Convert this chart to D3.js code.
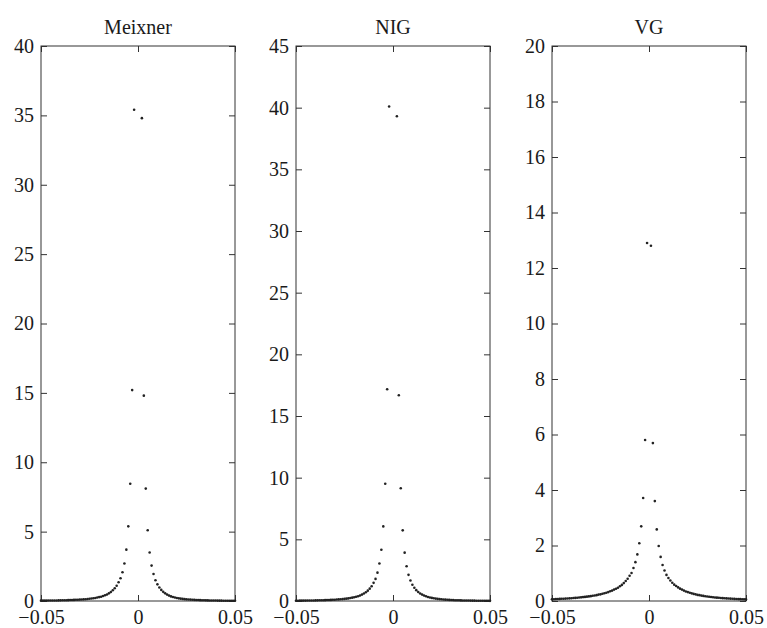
<!DOCTYPE html>
<html>
<head>
<meta charset="utf-8">
<script src="https://cdn.jsdelivr.net/npm/d3@7"></script>
<style>
  body { margin: 0; background: #fff; }
  svg { display: block; }
  svg text { font-family: "Liberation Serif", "Times New Roman", serif; font-size: 20px; fill: #1a1a1a; }
</style>
</head>
<body>
<svg id="chart" width="767" height="628"></svg>
<script>
const width = 767;
const height = 628;

// distance from 0 of each grid point (same on both sides)
const offsets = [0.001, 0.002, 0.003, 0.004, 0.005, 0.006, 0.007, 0.008, 0.009, 0.010,
  0.011, 0.012, 0.013, 0.014, 0.015, 0.016, 0.017, 0.018, 0.019, 0.020,
  0.021, 0.022, 0.023, 0.024, 0.025, 0.026, 0.027, 0.028, 0.029, 0.030,
  0.031, 0.032, 0.033, 0.034, 0.035, 0.036, 0.037, 0.038, 0.039, 0.040,
  0.041, 0.042, 0.043, 0.044, 0.045, 0.046, 0.047, 0.048, 0.049, 0.050];

// null = point off the top of the panel
const meixnerLeft = [null, 35.4, 15.2, 8.45, 5.38, 3.7, 2.7, 2.07, 1.64, 1.35, 1.10, 0.92, 0.77, 0.65, 0.55, 0.47, 0.41, 0.36, 0.31, 0.28, 0.25, 0.22, 0.20, 0.18, 0.16, 0.145, 0.13, 0.12, 0.11, 0.10, 0.092, 0.085, 0.078, 0.072, 0.067, 0.062, 0.058, 0.054, 0.050, 0.047, 0.044, 0.041, 0.038, 0.036, 0.034, 0.032, 0.030, 0.028, 0.026, 0.025];
const meixnerRight = [null, 34.8, 14.8, 8.1, 5.1, 3.5, 2.55, 1.95, 1.5, 1.2, 0.97, 0.80, 0.66, 0.55, 0.46, 0.39, 0.33, 0.29, 0.25, 0.22, 0.19, 0.17, 0.15, 0.135, 0.12, 0.11, 0.10, 0.09, 0.082, 0.075, 0.068, 0.062, 0.057, 0.052, 0.048, 0.044, 0.040, 0.037, 0.034, 0.031, 0.029, 0.027, 0.025, 0.023, 0.021, 0.019, 0.018, 0.017, 0.016, 0.015];

const nigLeft = [null, 40.1, 17.17, 9.51, 6.05, 4.16, 3.04, 2.30, 1.79, 1.47, 1.20, 1.00, 0.84, 0.71, 0.61, 0.52, 0.45, 0.39, 0.34, 0.30, 0.27, 0.24, 0.21, 0.19, 0.17, 0.155, 0.14, 0.128, 0.117, 0.107, 0.098, 0.090, 0.083, 0.076, 0.070, 0.065, 0.060, 0.056, 0.052, 0.048, 0.045, 0.042, 0.039, 0.036, 0.034, 0.032, 0.030, 0.028, 0.026, 0.024];
const nigRight = [null, 39.3, 16.68, 9.14, 5.73, 3.92, 2.82, 2.12, 1.66, 1.32, 1.07, 0.88, 0.73, 0.61, 0.52, 0.44, 0.38, 0.33, 0.285, 0.25, 0.22, 0.195, 0.172, 0.153, 0.137, 0.122, 0.11, 0.099, 0.089, 0.080, 0.073, 0.066, 0.060, 0.055, 0.050, 0.046, 0.042, 0.038, 0.035, 0.032, 0.029, 0.027, 0.025, 0.023, 0.021, 0.019, 0.018, 0.016, 0.015, 0.014];

const vgLeft = [12.9, 5.80, 3.71, 2.69, 2.08, 1.68, 1.40, 1.19, 1.01, 0.91, 0.80, 0.72, 0.645, 0.58, 0.53, 0.48, 0.44, 0.41, 0.375, 0.35, 0.32, 0.30, 0.28, 0.26, 0.24, 0.23, 0.21, 0.20, 0.19, 0.175, 0.165, 0.157, 0.148, 0.14, 0.132, 0.125, 0.119, 0.112, 0.107, 0.101, 0.096, 0.091, 0.087, 0.082, 0.079, 0.075, 0.071, 0.068, 0.065, 0.062];
const vgRight = [12.8, 5.69, 3.60, 2.58, 1.98, 1.59, 1.30, 1.10, 0.94, 0.83, 0.74, 0.66, 0.59, 0.54, 0.49, 0.445, 0.41, 0.375, 0.345, 0.32, 0.295, 0.275, 0.255, 0.24, 0.22, 0.21, 0.195, 0.183, 0.172, 0.162, 0.152, 0.144, 0.136, 0.128, 0.121, 0.115, 0.109, 0.103, 0.098, 0.093, 0.088, 0.084, 0.080, 0.076, 0.072, 0.069, 0.066, 0.063, 0.060, 0.057];

const xTicks = [-0.05, 0, 0.05];
const meixnerTicks = [0, 5, 10, 15, 20, 25, 30, 35, 40];
const nigTicks = [0, 5, 10, 15, 20, 25, 30, 35, 40, 45];
const vgTicks = [0, 2, 4, 6, 8, 10, 12, 14, 16, 18, 20];

const panels = [
  { title: "Meixner", left: meixnerLeft, right: meixnerRight, ticks: meixnerTicks, x0: 41 },
  { title: "NIG", left: nigLeft, right: nigRight, ticks: nigTicks, x0: 296 },
  { title: "VG", left: vgLeft, right: vgRight, ticks: vgTicks, x0: 552 }
];

const panelW = 194;
const plotTop = 46;
const plotBottom = 601;

const svg = d3.select("#chart");

// strip d3's default font attrs so the css serif font wins
const plain = a => a.attr("font-family", null).attr("font-size", null)
  .call(s => s.select(".domain").remove());

panels.forEach(p => {
  const x = d3.scaleLinear().domain([-0.05, 0.05]).range([p.x0, p.x0 + panelW]);
  const y = d3.scaleLinear().domain([0, d3.max(p.ticks)]).range([plotBottom, plotTop]);

  const pts = [];
  offsets.forEach((o, i) => {
    if (p.left[i] != null) pts.push([-o, p.left[i]]);
    if (p.right[i] != null) pts.push([o, p.right[i]]);
  });

  const g = svg.append("g");

  // y axis, labels on the left, ticks pointing in
  g.append("g")
    .attr("transform", `translate(${p.x0},0)`)
    .call(d3.axisLeft(y).tickValues(p.ticks).tickSize(-6).tickSizeOuter(0).tickPadding(7).tickFormat(d3.format("d")))
    .call(plain);

  g.append("g")
    .attr("transform", `translate(${p.x0 + panelW},0)`)
    .call(d3.axisRight(y).tickValues(p.ticks).tickSize(-6).tickSizeOuter(0).tickFormat(""))
    .call(plain);

  g.append("g")
    .attr("transform", `translate(0,${plotBottom})`)
    .call(d3.axisBottom(x).tickValues(xTicks).tickSize(-6).tickSizeOuter(0).tickPadding(9).tickFormat(d => d === 0 ? "0" : d3.format(".2f")(d)))
    .call(plain);

  g.append("g")
    .attr("transform", `translate(0,${plotTop})`)
    .call(d3.axisTop(x).tickValues(xTicks).tickSize(-6).tickSizeOuter(0).tickFormat(""))
    .call(plain);

  g.selectAll(".tick line").attr("stroke", "#333");
  g.selectAll(".tick text").attr("fill", "#1a1a1a");

  g.append("rect")
    .attr("x", p.x0)
    .attr("y", plotTop)
    .attr("width", panelW)
    .attr("height", plotBottom - plotTop)
    .attr("fill", "none")
    .attr("stroke", "#333")
    .attr("stroke-width", 1);

  g.append("text")
    .attr("x", p.x0 + panelW / 2)
    .attr("y", 34)
    .attr("text-anchor", "middle")
    .text(p.title);

  g.selectAll("circle.pt")
    .data(pts)
    .enter()
    .append("circle")
    .attr("class", "pt")
    .attr("cx", d => x(d[0]))
    .attr("cy", d => y(d[1]))
    .attr("r", 1.3)
    .attr("fill", "#222");
});
</script>
</body>
</html>
